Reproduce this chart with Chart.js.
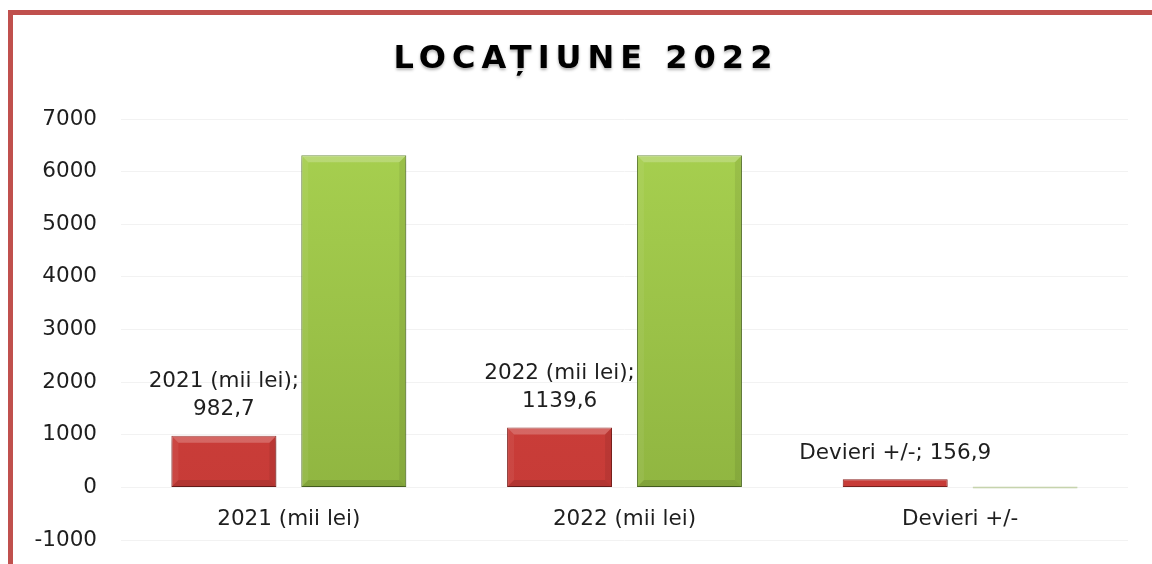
<!DOCTYPE html>
<html>
<head>
<meta charset="utf-8">
<script src="https://cdn.jsdelivr.net/npm/chart.js@4/dist/chart.umd.min.js"></script>
<style>
  html, body { margin: 0; padding: 0; background: #fff; overflow: hidden; }
  #frame { position: absolute; left: 8px; top: 10px; width: 2000px; height: 2000px; border: 5px solid #c0504d; }
  #chart { position: absolute; left: 0; top: 0; }
</style>
</head>
<body>
<div id="frame"></div>
<canvas id="chart" width="1152" height="577"></canvas>
<script>
const chartTitle = 'LOCAȚIUNE 2022';
const categories = ['2021 (mii lei)', '2022 (mii lei)', 'Devieri +/-'];
const redValues = [982.7, 1139.6, 156.9];
const greenValues = [6310, 6310, 0];
const redLabels = [['2021 (mii lei);', '982,7'], ['2022 (mii lei);', '1139,6'], ['Devieri +/-; 156,9']];

const FONT = '"DejaVu Sans", sans-serif';
const TXT = 21.5;

let vGrad = (chart, top, bottom) => {
  let area = chart.chartArea;
  if (!area) return bottom;
  let g = chart.ctx.createLinearGradient(0, area.top, 0, area.bottom);
  g.addColorStop(0, top);
  g.addColorStop(1, bottom);
  return g;
};

// title drawn by hand so it can get letter spacing
let titlePlugin = {
  id: 'titleText',
  afterDraw(chart) {
    let ctx = chart.ctx;
    ctx.save();
    ctx.font = 'bold 32px ' + FONT;
    ctx.letterSpacing = '6px';
    ctx.fillStyle = '#000';
    ctx.textAlign = 'center';
    ctx.textBaseline = 'middle';
    ctx.shadowColor = 'rgba(0,0,0,0.3)';
    ctx.shadowBlur = 3;
    ctx.shadowOffsetY = 2;
    ctx.fillText(chartTitle, 586, 60);
    ctx.restore();
  }
};

// soft shadow + bevel on the bars
let bevelPlugin = {
  id: 'bevel',
  beforeDatasetsDraw(chart) {
    let ctx = chart.ctx;
    ctx.save();
    ctx.shadowColor = 'rgba(0,0,0,0.25)';
    ctx.shadowBlur = 6;
    ctx.shadowOffsetY = 4;
  },
  afterDatasetsDraw(chart) {
    let ctx = chart.ctx;
    ctx.restore();
    chart.data.datasets.forEach((ds, i) => {
      chart.getDatasetMeta(i).data.forEach(bar => {
        let h = bar.base - bar.y;
        if (h < 8) return;
        let l = bar.x - bar.width / 2, r = bar.x + bar.width / 2, t = bar.y, b = bar.base;
        let d = 7;
        ctx.save();
        ctx.fillStyle = 'rgba(255,255,255,0.22)';
        ctx.beginPath();
        ctx.moveTo(l, t); ctx.lineTo(r, t); ctx.lineTo(r - d, t + d); ctx.lineTo(l + d, t + d); ctx.closePath();
        ctx.fill();
        ctx.fillStyle = 'rgba(255,255,255,0.06)';
        ctx.beginPath();
        ctx.moveTo(l, t); ctx.lineTo(l + d, t + d); ctx.lineTo(l + d, b - d); ctx.lineTo(l, b); ctx.closePath();
        ctx.fill();
        ctx.fillStyle = 'rgba(0,0,0,0.07)';
        ctx.beginPath();
        ctx.moveTo(r, t); ctx.lineTo(r - d, t + d); ctx.lineTo(r - d, b - d); ctx.lineTo(r, b); ctx.closePath();
        ctx.fill();
        ctx.fillStyle = 'rgba(0,0,0,0.1)';
        ctx.beginPath();
        ctx.moveTo(l, b); ctx.lineTo(l + d, b - d); ctx.lineTo(r - d, b - d); ctx.lineTo(r, b); ctx.closePath();
        ctx.fill();
        ctx.restore();
      });
    });
  }
};

// data labels above the red bars
let labelPlugin = {
  id: 'redLabels',
  afterDatasetsDraw(chart) {
    let ctx = chart.ctx;
    let meta = chart.getDatasetMeta(0);
    ctx.save();
    ctx.font = TXT + 'px ' + FONT;
    ctx.fillStyle = '#1e1e1e';
    ctx.textAlign = 'center';
    ctx.textBaseline = 'middle';
    meta.data.forEach((bar, i) => {
      let lines = redLabels[i];
      lines.forEach((txt, k) => {
        let y = bar.y - 26 - (lines.length - 1 - k) * 28;
        ctx.fillText(txt, bar.x, y);
      });
    });
    ctx.restore();
  }
};

let ctx = document.querySelector('#chart').getContext('2d');
const chart = new Chart(ctx, {
  type: 'bar',
  data: {
    labels: categories,
    datasets: [{
      label: 'red',
      data: redValues,
      backgroundColor: c => vGrad(c.chart, '#d4443f', '#c53a36'),
      borderColor: '#8e2522',
      borderWidth: 1,
      borderSkipped: false,
      categoryPercentage: 0.774,
      barPercentage: 0.808
    }, {
      label: 'green',
      data: greenValues,
      backgroundColor: c => c.raw === 0 ? '#d3dfc0' : vGrad(c.chart, '#a8d150', '#8db23f'),
      borderColor: c => c.raw === 0 ? '#c6d4ad' : '#5f822b',
      borderWidth: 1,
      borderSkipped: false,
      minBarLength: 2,
      categoryPercentage: 0.774,
      barPercentage: 0.808
    }]
  },
  options: {
    responsive: false,
    animation: false,
    devicePixelRatio: 1,
    layout: { padding: { top: 119, right: 24, bottom: 0, left: 0 } },
    plugins: { legend: { display: false }, tooltip: { enabled: false } },
    scales: {
      x: {
        position: { y: 0 },
        grid: { display: false },
        border: { display: false },
        ticks: { color: '#1e1e1e', font: { family: FONT, size: TXT }, padding: 11 }
      },
      y: {
        min: -1000,
        max: 7000,
        afterFit(scale) { scale.width = 121; },
        grid: { color: '#f2f2f2', drawTicks: false },
        border: { display: false },
        ticks: {
          stepSize: 1000,
          color: '#1e1e1e',
          font: { family: FONT, size: TXT },
          padding: 24,
          callback: v => String(v)
        }
      }
    }
  },
  plugins: [bevelPlugin, labelPlugin, titlePlugin]
});
</script>
</body>
</html>
